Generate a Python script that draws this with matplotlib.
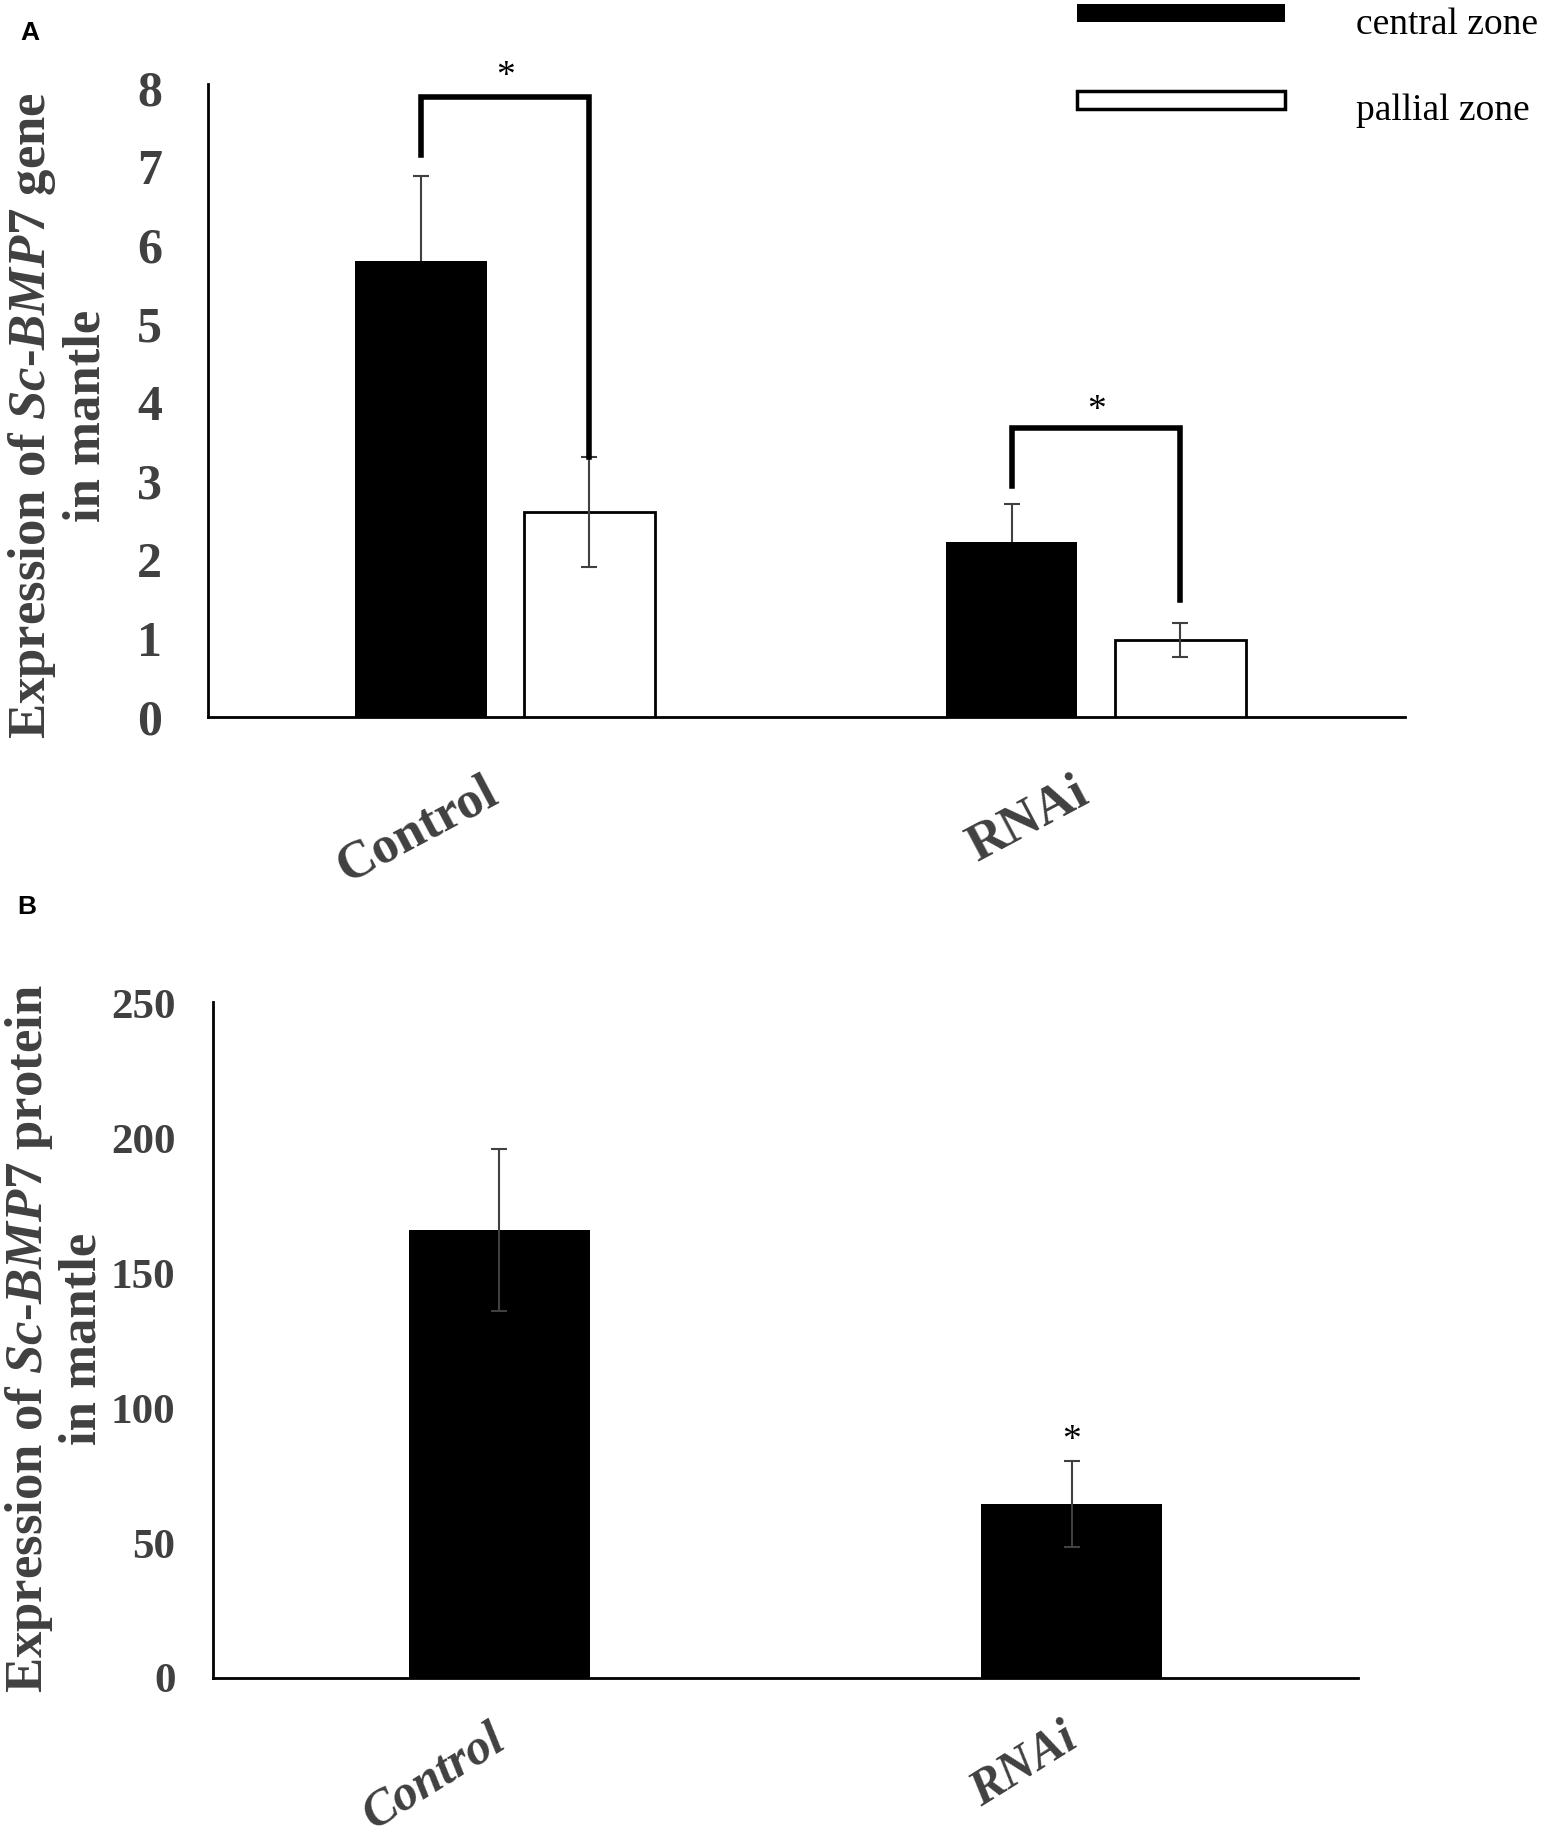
import numpy as np
import matplotlib
matplotlib.use("Agg")
import matplotlib.pyplot as plt
import matplotlib.transforms as mtransforms
from matplotlib.patches import Patch

plt.rcParams['font.family'] = ['Liberation Serif', 'DejaVu Serif']
plt.rcParams['mathtext.fontset'] = 'custom'
plt.rcParams['mathtext.rm'] = 'Liberation Serif:bold'
plt.rcParams['mathtext.it'] = 'Liberation Serif:italic:bold'
plt.rcParams['mathtext.bf'] = 'Liberation Serif:bold'

# ---------------------------
# data
# ---------------------------
groups = ["Control", "RNAi"]
zones = ["central zone", "pallial zone"]

# panel A: gene expression
central_vals = [5.80, 2.22]
central_err = [1.08, 0.49]
pallial_vals = [2.61, 0.98]
pallial_err = [0.70, 0.22]
gene_ticks = [0, 1, 2, 3, 4, 5, 6, 7, 8]

# significance brackets (left bottom, bracket top, right bottom)
brk_left_bottom = [7.14, 2.94]
brk_top = [7.88, 3.67]
brk_right_bottom = [3.30, 1.49]
star_a_y = [8.14, 3.90]

# panel B: protein expression
protein_vals = [166.0, 64.5]
protein_err = [30.0, 16.0]
protein_ticks = [0, 50, 100, 150, 200, 250]
star_b_y = [None, 88.0]

TXT = '#404040'
ERR = '#404040'

fig = plt.figure(figsize=(15.5, 18.36), dpi=100)


def px_offset(dx_px, dy_px):
    return mtransforms.ScaledTranslation(dx_px / 100, dy_px / 100, fig.dpi_scale_trans)


# ---------------------------
# panel A
# ---------------------------
ax = fig.add_axes([0.1342, 0.6095, 0.7723, 0.3448])
x = np.arange(len(groups))
w = 0.222
off = 0.1425

ax.bar(x - off, central_vals, w, color='black', zorder=3)
ax.errorbar(x - off, central_vals, yerr=central_err, fmt='none', ecolor=ERR,
            elinewidth=1.5, capsize=6, capthick=1.5, zorder=2)
ax.bar(x + off, pallial_vals, w, color='white', edgecolor='black', linewidth=2, zorder=3)
ax.errorbar(x + off, pallial_vals, yerr=pallial_err, fmt='none', ecolor=ERR,
            elinewidth=1.5, capsize=6, capthick=1.5, zorder=4)

for i in range(len(groups)):
    xl, xr = x[i] - off, x[i] + off
    ax.plot([xl, xl, xr, xr], [brk_left_bottom[i], brk_top[i], brk_top[i], brk_right_bottom[i]],
            color='black', lw=4, solid_joinstyle='miter', clip_on=False, zorder=5)
    ax.text(x[i], star_a_y[i], '*', ha='center', va='center', fontsize=27, color='black')

ax.set_xlim(-0.503, 1.523)
ax.set_ylim(0, 8.05)
ax.set_yticks(gene_ticks)
ax.set_yticklabels([str(t) for t in gene_ticks], fontsize=36, fontweight='bold', color=TXT)
ax.set_xticks(x)
ax.set_xticklabels(groups, fontsize=38, fontweight='bold', color=TXT,
                   rotation=28, ha='right', va='top')
ax.tick_params(axis='y', length=0, pad=33)
ax.tick_params(axis='x', length=0, pad=37)
for s in ['top', 'right']:
    ax.spines[s].set_visible(False)
for s in ['left', 'bottom']:
    ax.spines[s].set_linewidth(2)

handles = [Patch(facecolor='black', edgecolor='black', lw=0),
           Patch(facecolor='white', edgecolor='black', lw=2.5)]
leg = ax.legend(handles, zones, loc='upper left', bbox_to_anchor=(0.6948, 1.0),
                bbox_transform=fig.transFigure, frameon=False, fontsize=27,
                handlelength=5.55, handleheight=0.33, handletextpad=1.9,
                labelspacing=1.4, borderpad=0, borderaxespad=0)
for t in leg.get_texts():
    t.set_transform(t.get_transform() + px_offset(0, -7))

fig.text(0.0376, 0.7734, "Expression of $\\mathit{Sc}$-$\\mathit{BMP7}$ gene\nin mantle",
         rotation=90, ha='center', va='center', fontsize=38, fontweight='bold',
         color=TXT, linespacing=1.1)
fig.text(0.019, 0.982, "A", fontsize=19, fontweight='bold', family='Liberation Sans',
         ha='center', va='center')

# ---------------------------
# panel B
# ---------------------------
bx = fig.add_axes([0.1374, 0.0861, 0.7387, 0.3682])
wb = 0.316
bx.bar(x, protein_vals, wb, color='black', zorder=2)
bx.errorbar(x, protein_vals, yerr=protein_err, fmt='none', ecolor=ERR,
            elinewidth=1.5, capsize=6, capthick=1.5, zorder=3)
for i in range(len(groups)):
    if star_b_y[i] is not None:
        bx.text(x[i], star_b_y[i], '*', ha='center', va='center', fontsize=27, color='black')

bx.set_xlim(-0.5, 1.5)
bx.set_ylim(0, 250.7)
bx.set_yticks(protein_ticks)
bx.set_yticklabels([str(t) for t in protein_ticks], fontsize=31, fontweight='bold', color=TXT)
bx.set_xticks(x)
bx.set_xticklabels([])
lab_tr = bx.get_xaxis_transform() + px_offset(14, -38)
for i, g in enumerate(groups):
    bx.text(x[i], 0, g, transform=lab_tr, fontsize=36, fontweight='bold', style='italic',
            color=TXT, rotation=32, ha='right', va='top', clip_on=False)
bx.tick_params(axis='y', length=0, pad=27)
bx.tick_params(axis='x', length=0)
for s in ['top', 'right']:
    bx.spines[s].set_visible(False)
for s in ['left', 'bottom']:
    bx.spines[s].set_linewidth(2)

fig.text(0.0355, 0.2707, "Expression of $\\mathit{Sc}$-$\\mathit{BMP7}$ protein\nin mantle",
         rotation=90, ha='center', va='center', fontsize=38, fontweight='bold',
         color=TXT, linespacing=1.1)
fig.text(0.017, 0.506, "B", fontsize=19, fontweight='bold', family='Liberation Sans',
         ha='center', va='center')

fig.savefig("out.png", dpi=100)
